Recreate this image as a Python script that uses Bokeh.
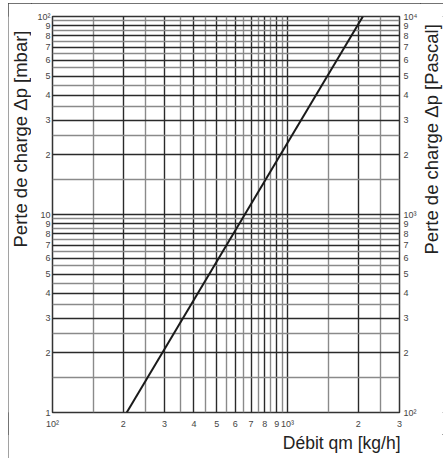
import math
from bokeh.plotting import figure
from bokeh.models import Range1d, LogAxis, LogScale, FixedTicker, Label
from bokeh.layouts import row, column
from bokeh.embed import file_html
from bokeh.resources import INLINE

# ---- data ----
q_line = [207, 2095]      # Débit qm [kg/h]
dp_line = [1, 100]        # Perte de charge [mbar]

x_major = [100, 200, 300, 400, 500, 600, 700, 800, 900, 1000, 2000, 3000]
x_minor = [150, 250, 350, 450, 550, 650, 750, 850, 950, 1500, 2500]
x_labels = ["10²", "2", "3", "4", "5", "6", "7", "8", "9", "10³", "2", "3"]

y_major = [1, 2, 3, 4, 5, 6, 7, 8, 9, 10, 20, 30, 40, 50, 60, 70, 80, 90, 100]
y_minor = [1.5, 2.5, 3.5, 4.5, 5.5, 6.5, 7.5, 8.5, 9.5,
           15, 25, 35, 45, 55, 65, 75, 85, 95]
y_labels = ["1", "2", "3", "4", "5", "6", "7", "8", "9", "10",
            "2", "3", "4", "5", "6", "7", "8", "9", "10²"]

pa_major = [100, 200, 300, 400, 500, 600, 700, 800, 900, 1000,
            2000, 3000, 4000, 5000, 6000, 7000, 8000, 9000, 10000]
pa_labels = ["10²", "2", "3", "4", "5", "6", "7", "8", "9", "10³",
             "2", "3", "4", "5", "6", "7", "8", "9", "10⁴"]

x_title = "Débit qm [kg/h]"
y_title = "Perte de charge Δp [mbar]"
y2_title = "Perte de charge Δp [Pascal]"

# ---- layout sizes (pixels) ----
LW, MW, RW = 23, 389, 23          # left text strip, main plot, right text strip
MH, BH = 431, 24                  # main plot height, bottom text strip

p = figure(width=MW, height=MH, x_axis_type="log", y_axis_type="log",
           x_range=Range1d(100, 3000), y_range=Range1d(1, 100),
           output_backend="svg", toolbar_location=None,
           min_border_left=21, min_border_right=20,
           min_border_top=13, min_border_bottom=22)
p.background_fill_color = "white"
p.border_fill_color = "white"
p.outline_line_color = "#333"
p.outline_line_width = 1.5

p.extra_y_ranges = {"pa": Range1d(100, 10000)}
p.extra_y_scales = {"pa": LogScale()}
p.add_layout(LogAxis(y_range_name="pa"), "right")

def style_axis(ax, ticks, labels, standoff):
    ax.ticker = FixedTicker(ticks=ticks, minor_ticks=[])
    ax.major_label_overrides = {t: l for t, l in zip(ticks, labels)}
    ax.major_tick_line_color = None
    ax.minor_tick_line_color = None
    ax.axis_line_color = None
    ax.major_label_text_font = "Liberation Sans"
    ax.major_label_text_font_size = "9px"
    ax.major_label_text_color = "#444"
    ax.major_label_standoff = standoff

style_axis(p.xaxis[0], x_major, x_labels, 0)
style_axis(p.yaxis[0], y_major, y_labels, -4)
style_axis(p.yaxis[1], pa_major, pa_labels, -2)

xg = p.xgrid[0]
xg.ticker = FixedTicker(ticks=x_major, minor_ticks=x_minor)
yg = p.ygrid[0]
yg.ticker = FixedTicker(ticks=y_major, minor_ticks=y_minor)
for g in (xg, yg):
    g.grid_line_color = "#2a2a2a"
    g.grid_line_width = 1.4
    g.grid_line_alpha = 1.0
    g.minor_grid_line_color = "#8a8a8a"
    g.minor_grid_line_width = 1.4

p.line(q_line, dp_line, line_color="#1a1a1a", line_width=2)


def text_strip(w, h):
    f = figure(width=w, height=h, x_range=Range1d(0, 1), y_range=Range1d(0, 1),
               output_backend="svg", toolbar_location=None,
               x_axis_location=None, y_axis_location=None, min_border=0)
    f.grid.visible = False
    f.outline_line_color = None
    f.background_fill_color = "white"
    f.border_fill_color = "white"
    return f

left = text_strip(LW, MH)
left.add_layout(Label(x=12, y=165, x_units="screen", y_units="screen",
                      text=y_title, angle=math.pi / 2,
                      text_align="left", text_baseline="middle",
                      text_font="Liberation Sans", text_font_size="18.5px",
                      text_color="#222"))

right = text_strip(RW, MH)
right.add_layout(Label(x=11, y=158, x_units="screen", y_units="screen",
                       text=y2_title, angle=math.pi / 2,
                       text_align="left", text_baseline="middle",
                       text_font="Liberation Sans", text_font_size="18.5px",
                       text_color="#222"))

bottom = text_strip(LW + MW + RW, BH)
bottom.add_layout(Label(x=LW + MW - 20, y=BH - 8, x_units="screen", y_units="screen",
                        text=x_title,
                        text_align="right", text_baseline="middle",
                        text_font="Liberation Sans", text_font_size="17.5px",
                        text_color="#222"))

layout = column(row(left, p, right), bottom)
layout.styles = {"margin-left": "8px", "margin-top": "3px",
                 "outline": "1.5px solid #444", "outline-offset": "-1px"}

open("out.html", "w").write(file_html(layout, INLINE))
